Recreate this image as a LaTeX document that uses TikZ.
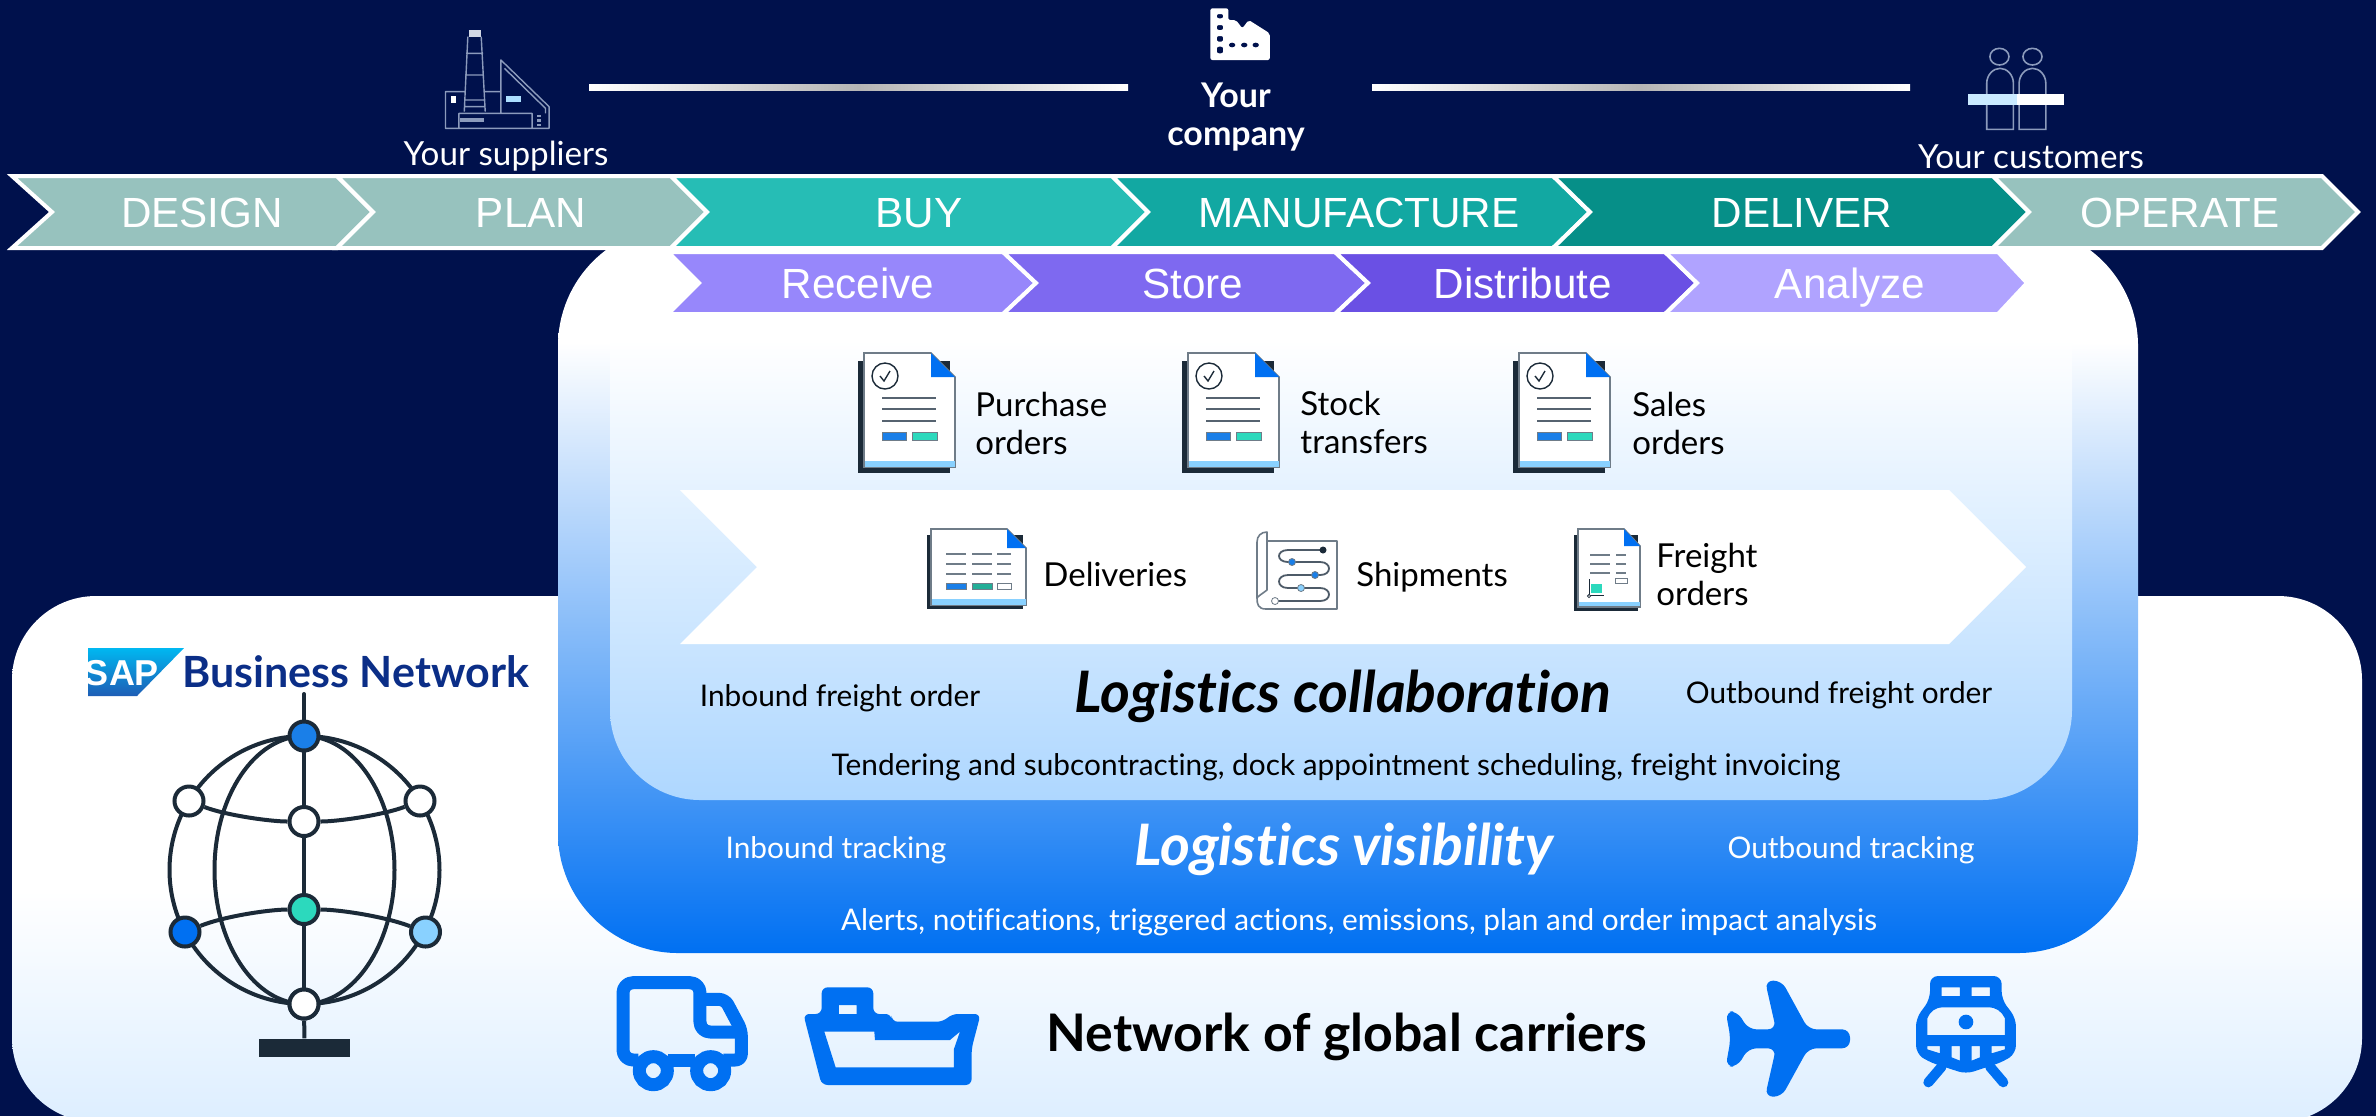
\documentclass[tikz,border=0pt]{standalone}
\usepackage{fontspec}
\setmainfont{Lato}[Ligatures=CommonOff]
\newfontfamily\arialf{Liberation Sans}
\usetikzlibrary{calc}
\definecolor{bgnavy}{HTML}{00114C}
\definecolor{sapblue}{HTML}{0070F2}
\definecolor{palesky}{HTML}{DDEEFF}
\definecolor{innerb}{HTML}{AED7FF}
\definecolor{sage}{HTML}{97C2BE}
\definecolor{tealA}{HTML}{26BDB5}
\definecolor{tealB}{HTML}{12A8A2}
\definecolor{tealC}{HTML}{068F88}
\definecolor{violA}{HTML}{9787FB}
\definecolor{violB}{HTML}{7E69F0}
\definecolor{violC}{HTML}{6A50E4}
\definecolor{violD}{HTML}{B0A3FF}
\definecolor{ink}{HTML}{1B2A38}
\definecolor{greyline}{HTML}{6F7C88}
\definecolor{iconblue}{HTML}{1A7FE8}
\definecolor{icongreen}{HTML}{2CD9BD}
\definecolor{iconsky}{HTML}{89D1FF}
\definecolor{linegrey}{HTML}{B5B5B5}
\definecolor{thinicon}{HTML}{8C9BBC}
\definecolor{sapcyan}{HTML}{00B8F1}
\definecolor{sapdeep}{HTML}{1E5DB5}
\definecolor{sapnavy}{HTML}{0B2E87}
\pgfdeclareverticalshading{shadeCenter}{100bp}{color(0bp)=(sapblue); color(25bp)=(sapblue); color(67bp)=(white); color(100bp)=(white)}
\pgfdeclareverticalshading{shadeInner}{100bp}{color(0bp)=(innerb); color(25bp)=(innerb); color(75bp)=(white); color(100bp)=(white)}
\pgfdeclareverticalshading{shadeBottom}{100bp}{color(0bp)=(palesky); color(25bp)=(palesky); color(47bp)=(white); color(100bp)=(white)}
\tikzset{
  chevA/.style={fill=#1,draw=white,line width=2pt,line join=miter},
  chevtext/.style={font=\arialf\fontsize{21.1}{25}\selectfont,text=white,inner sep=0pt,anchor=base},
  wlabel/.style={font=\fontsize{16.5}{19}\selectfont,text=black,inner sep=0pt,anchor=west,align=left},
  blabel/.style={font=\fontsize{16.5}{19}\selectfont,text=black,inner sep=0pt,anchor=base west},
  clabel/.style={font=\fontsize{14.9}{19}\selectfont,text=black,inner sep=0pt,anchor=base,align=center},
  toplabel/.style={font=\fontsize{16.6}{19}\selectfont,text=white,inner sep=0pt,anchor=base},
  titlelbl/.style={font=\fontsize{28.6}{32}\selectfont\bfseries\itshape,inner sep=0pt,anchor=base},
  globenode/.style={circle,draw=ink,line width=2pt,minimum size=14.5pt,inner sep=0pt,fill=#1},
  globeline/.style={draw=ink,line width=2pt},
}
\newcommand{\chevron}[7]{%
  \path[chevA=#7] (#1,#5) -- (#3,#5) -- (#4,{(#5+#6)/2}) -- (#3,#6) -- (#1,#6) -- (#2,{(#5+#6)/2}) -- cycle;}
\newcommand{\docchecked}[1]{%
\begin{scope}[shift={(#1,353)}]
  \fill[ink] (-6,8) rectangle (86,120);
  \path[fill=white,draw=greyline,line width=.8pt] (0,0) -- (67,0) -- (91,24) -- (91,114) -- (0,114) -- cycle;
  \fill[iconsky] (0.5,108) rectangle (90.5,114);
  \path[fill=sapblue] (67,0) -- (91,24) -- (67,24) -- cycle;
  \draw[ink,line width=.7pt] (21,23) ellipse [x radius=13,y radius=13];
  \draw[ink,line width=.7pt] (16,23) -- (20,28) -- (26,18);
  \foreach \yy in {45,56,68} \draw[greyline!70!ink,line width=1pt] (18,\yy) -- (72,\yy);
  \path[fill=iconblue,draw=greyline,line width=.4pt] (18,79) rectangle (42,87);
  \path[fill=icongreen,draw=greyline,line width=.4pt] (48,79) rectangle (73,87);
\end{scope}}
\begin{document}
\begin{tikzpicture}[x=0.5pt,y=-0.5pt]
\useasboundingbox (0,0) rectangle (2376,1116);
\fill[bgnavy] (0,0) rectangle (2376,1116);
\clip (0,0) rectangle (2376,1116);
% panels
\path[shading=shadeBottom,rounded corners=42pt] (12,596) rectangle (2362,1122);
\path[shading=shadeCenter,rounded corners=60pt] (558,226) rectangle (2138,953);
\path[shading=shadeInner] (610,340) -- (2072,340) [rounded corners=45pt] -- (2072,800) -- (610,800) [sharp corners] -- cycle;
% white arrow band
\fill[white] (680,490) -- (1949,490) -- (2026,567) -- (1949,644) -- (680,644) -- (757,567) -- cycle;
% top lines
\path[left color=white,right color=white,middle color=linegrey] (589,84) rectangle (1128,90);
\path[left color=white,right color=white,middle color=linegrey] (1372,84) rectangle (1910,90);
% chevrons row 1
\chevron{12}{52}{337}{373}{176}{248}{sage}
\chevron{337}{373}{671}{707}{176}{248}{sage}
\chevron{671}{707}{1112}{1148}{176}{248}{tealA}
\chevron{1112}{1148}{1553}{1590}{176}{248}{tealB}
\chevron{1553}{1590}{1993}{2029}{176}{248}{tealC}
\chevron{1993}{2029}{2322}{2358}{176}{248}{sage}
\node[chevtext] (design) at (202,227) {DESIGN};
\node[chevtext] (plan) at (531,227) {PLAN};
\node[chevtext] (buy) at (919,227) {BUY};
\node[chevtext] (manu) at (1359,227) {MANUFACTURE};
\node[chevtext] (deliver) at (1802,227) {DELIVER};
\node[chevtext] (operate) at (2180,227) {OPERATE};
% chevrons row 2
\chevron{668}{699}{1003}{1036}{252}{314}{violA}
\chevron{1003}{1036}{1335}{1368}{252}{314}{violB}
\chevron{1335}{1368}{1665}{1697}{252}{314}{violC}
\chevron{1665}{1697}{1998}{2027}{252}{314}{violD}
\node[chevtext] (receive) at (858,298) {Receive};
\node[chevtext] (store) at (1193,298) {Store};
\node[chevtext] (distrib) at (1523,298) {Distribute};
\node[chevtext] (analyze) at (1850,298) {Analyze};
% top labels
\node[toplabel] (suppl) at (506,165) {Your suppliers};
\node[toplabel,anchor=center,align=center,font=\fontsize{17}{19}\selectfont\bfseries] (comp) at (1236,117) {Your\\company};
\node[toplabel] (cust) at (2031,168) {Your customers};
% supplier icon
\begin{scope}[xscale=.4464,yscale=.3333]
  \draw[thinicon,line width=.7pt,line join=round]
    (1048,110) -- (1040,335) (1078,110) -- (1087,335)
    (1044,160) -- (1082,160) (1042,225) -- (1084,225) (1041,300) -- (1086,300) (1040,320) -- (1087,320)
    (1040,275) -- (998,275) -- (998,385) -- (1230,385) -- (1230,320) -- (1122,180) -- (1122,340)
    (1087,275) -- (1122,275) (1130,205) -- (1222,325) -- (1222,340)
    (1028,385) -- (1028,340) -- (1192,340) -- (1192,385);
  \fill[thinicon!40!white] (1050,90) rectangle (1078,110);
  \fill[thinicon] (1030,355) rectangle (1085,367);
  \fill[white] (1010,288) rectangle (1022,308);
  \fill[iconsky!70!white] (1133,288) rectangle (1167,307);
  \foreach \yy in {345,358,371} \fill[thinicon] (1204,\yy) rectangle (1212,\yy+7);
\end{scope}
% company icon
\begin{scope}[shift={(380,0)},xscale=.6378,yscale=.3333]
  \fill[white,even odd rule,rounded corners=1pt]
    (1302,25) -- (1330,25) -- (1330,60) -- (1342,60) -- (1352,85) -- (1362,60) -- (1395,100) -- (1395,180) -- (1302,180) -- cycle
    (1312,42) rectangle (1322,55) (1312,75) rectangle (1322,90) (1312,108) rectangle (1322,125) (1312,140) rectangle (1322,160);
  \fill[bgnavy] (1336,135) ellipse [x radius=5,y radius=7] (1355,135) ellipse [x radius=5,y radius=7] (1373,135) ellipse [x radius=5,y radius=7];
\end{scope}
% customers icon
\begin{scope}[shift={(1380,0)},xscale=.6353,yscale=.3333]
  \draw[thinicon,line width=.8pt] (975,170) ellipse [x radius=15,y radius=25] (1027,170) ellipse [x radius=15,y radius=25];
  \draw[thinicon,line width=.8pt] (955,388) -- (955,250) .. controls (955,225) and (965,205) .. (976,205) .. controls (987,205) and (997,225) .. (997,250) -- (997,388) -- cycle;
  \draw[thinicon,line width=.8pt] (1006,388) -- (1006,250) .. controls (1006,225) and (1016,205) .. (1027,205) .. controls (1038,205) and (1048,225) .. (1048,250) -- (1048,388) -- cycle;
  \fill[iconsky!45!white] (926,282) rectangle (1002,316);
  \fill[white] (1002,282) rectangle (1077,316);
\end{scope}
% documents
\docchecked{864}
\docchecked{1188}
\docchecked{1519}
\node[wlabel] (po) at (975,423) {Purchase\\orders};
\node[wlabel] (st) at (1300,422) {Stock\\transfers};
\node[wlabel] (so) at (1632,423) {Sales\\orders};
% deliveries icon
\begin{scope}[shift={(931,529)}]
  \fill[ink] (-4,6) rectangle (92,80);
  \path[fill=white,draw=greyline,line width=.8pt] (0,0) -- (76,0) -- (95,19) -- (95,76) -- (0,76) -- cycle;
  \fill[iconsky] (0.5,70) rectangle (94.5,76);
  \fill[sapblue] (76,0) -- (95,19) -- (76,19) -- cycle;
  \foreach \yy in {25,35,45} {
    \draw[greyline,line width=1pt] (15,\yy) -- (35,\yy) (41,\yy) -- (61,\yy) (66,\yy) -- (80,\yy);}
  \path[fill=iconblue,draw=greyline,line width=.4pt] (15,54) rectangle (35,60);
  \path[fill=icongreen!80!black,draw=greyline,line width=.4pt] (41,54) rectangle (61,60);
  \path[fill=white,draw=greyline,line width=.4pt] (66,54) rectangle (80,60);
\end{scope}
\node[blabel] (deliv) at (1043,586) {Deliveries};
% shipments icon
\draw[greyline,line width=.8pt,line join=round] (1267,541) -- (1337,541) -- (1337,609) -- (1266,609) .. controls (1258,609) and (1257,604) .. (1257,598) -- (1257,542) .. controls (1257,536) and (1261,532) .. (1267,532) -- (1267,590) .. controls (1262,594) and (1258,596) .. (1257,598);
\draw[greyline!60!ink,line width=.9pt] (1323,550) -- (1288,550) .. controls (1276,550) and (1276,562) .. (1288,562) -- (1320,562) .. controls (1332,562) and (1332,575) .. (1320,575) -- (1288,575) .. controls (1276,575) and (1276,588) .. (1288,588) -- (1320,588) .. controls (1332,588) and (1332,601) .. (1320,601) -- (1275,601);
\path[fill=ink] (1323,550) circle (3.5);
\path[fill=iconblue,draw=greyline] (1292,562) circle (3.5);
\path[fill=iconblue,draw=greyline] (1315,575) circle (3.5);
\path[fill=iconsky,draw=greyline] (1301,588) circle (3.5);
\path[fill=white,draw=greyline] (1275,601) circle (3.5);
\node[blabel] (ship) at (1356,586) {Shipments};
% freight icon
\begin{scope}[shift={(1578,529)}]
  \fill[ink] (-4,6) rectangle (60,82);
  \path[fill=white,draw=greyline,line width=.8pt] (0,0) -- (46,0) -- (62,17) -- (62,78) -- (0,78) -- cycle;
  \fill[iconsky] (0.5,73) rectangle (61.5,77);
  \fill[sapblue] (46,0) -- (62,17) -- (46,17) -- cycle;
  \foreach \yy in {26,35,44} {\draw[greyline,line width=1pt] (12,\yy) -- (32,\yy) (38,\yy) -- (48,\yy);}
  \path[fill=white,draw=greyline,line width=.4pt] (37,49) rectangle (49,54);
  \fill[icongreen] (13,55) rectangle (24,64);
  \draw[ink,line width=.5pt] (11,50) -- (11,66) -- (26,66);
  \path[fill=white,draw=ink,line width=.4pt] (11,67) circle (1.6);
\end{scope}
\node[wlabel] (freight) at (1656,574) {Freight\\orders};
% middle labels
\node[clabel] (ifo) at (840,706) {Inbound freight order};
\node[titlelbl,text=black] (lc) at (1343,712) {Logistics collaboration};
\node[clabel] (ofo) at (1839,703) {Outbound freight order};
\node[clabel] (tend) at (1336,775) {Tendering and subcontracting, dock appointment scheduling, freight invoicing};
\node[clabel,text=white] (itr) at (836,858) {Inbound tracking};
\node[titlelbl,text=white] (lv) at (1344,865) {Logistics visibility};
\node[clabel,text=white] (otr) at (1851,858) {Outbound tracking};
\node[clabel,text=white] (alerts) at (1359,930) {Alerts, notifications, triggered actions, emissions, plan and order impact analysis};
\node[clabel,font=\fontsize{25.9}{28}\selectfont\bfseries] (net) at (1347,1051) {Network of global carriers};
% SAP logo
\path[top color=sapcyan,bottom color=sapdeep] (88,648) -- (184,648) -- (137,696) -- (88,696) -- cycle;
\node[inner sep=0pt,text=white,font=\arialf\fontsize{18}{20}\selectfont\bfseries] (sap) at (122,673) {SAP};
\node[inner sep=0pt,anchor=west,text=sapnavy,font=\fontsize{21.5}{24}\selectfont\bfseries] (bn) at (182,672) {Business Network};
% globe
\draw[globeline] (304.5,870) ellipse [x radius=135,y radius=134];
\draw[globeline] (304.5,870) ellipse [x radius=90,y radius=134];
\coordinate (gtop) at (304,694);
\node[globenode=white] (g6) at (304,1004) {};
\node[rectangle,fill=ink,inner sep=0pt,minimum width=45.5pt,minimum height=9.2pt] (gbase) at (304.5,1048) {};
\draw[globeline,line cap=round] (gtop) -- (g6);
\draw[globeline] (g6) -- (gbase);
\node[globenode=iconblue] (g1) at (304,736) {};
\node[globenode=white] (g2) at (304,821.5) {};
\node[globenode=icongreen] (g3) at (304,909.5) {};
\node[globenode=white] (g4) at (189,801) {};
\node[globenode=white] (g5) at (420,801) {};
\node[globenode=sapblue] (g7) at (185,932) {};
\node[globenode=iconsky] (g8) at (425.5,932) {};
\node[globenode=white] (g6b) at (304,1004) {};
\draw[globeline] (g4) .. controls (225,815) and (270,821.5) .. (g2);
\draw[globeline] (g5) .. controls (383,815) and (338,821.5) .. (g2);
\draw[globeline] (g7) .. controls (225,916) and (270,909.5) .. (g3);
\draw[globeline] (g8) .. controls (383,916) and (338,909.5) .. (g3);
% truck
\begin{scope}[shift={(590,950)},scale=.3333]
  \draw[sapblue,line width=6.5pt,line join=round,line cap=butt,rounded corners=5pt]
    (145,330) -- (99,330) -- (99,98) -- (330,98) -- (330,246) -- (454,246);
  \draw[sapblue,line width=6.5pt,line join=round,rounded corners=3pt]
    (330,148) -- (405,148) -- (454,240) -- (454,330) -- (400,330);
  \draw[sapblue,line width=6.5pt] (235,330) -- (315,330);
  \draw[sapblue,line width=6.5pt] (190,362) circle (42) (362,362) circle (42);
\end{scope}
% ship
\begin{scope}[shift={(590,950)},scale=.3333]
  \fill[sapblue,even odd rule,rounded corners=3pt]
    (640,192) -- (695,192) -- (695,112) -- (850,112) -- (850,192) -- (905,192) -- (905,215) -- (1060,215) -- (1085,192) -- (1172,192) -- (1145,295) -- (1145,405) -- (695,405) -- cycle
    [sharp corners] (703,245) -- (853,245) -- (855,270) -- (1080,270) -- (1110,245) -- (1092,297) -- (1092,352) -- (737,352) -- cycle
    (747,165) rectangle (800,192);
\end{scope}
% plane
\begin{scope}[shift={(1680,950)},scale=.3333]
  \fill[sapblue,rounded corners=4pt]
    (510,238) -- (510,295) -- (385,295) -- (305,440) -- (255,440) -- (288,295) -- (205,295) -- (172,350) -- (137,350) -- (152,267) -- (137,184) -- (172,184) -- (205,238) -- (288,238) -- (255,92) -- (305,92) -- (385,238) -- cycle;
\end{scope}
% train
\begin{scope}[shift={(1680,950)},scale=.3333]
  \draw[sapblue,line width=5pt,line cap=round] (785,350) -- (745,397) (930,350) -- (970,397);
  \fill[sapblue,even odd rule,rounded corners=4pt]
    (750,78) -- (965,78) -- (965,148) -- (1008,205) -- (1008,310) -- (970,335) -- (858,372) -- (745,335) -- (708,310) -- (708,205) -- (750,148) -- cycle
    [sharp corners] (785,112) rectangle (840,138) (875,112) rectangle (930,138)
    (742,255) -- (742,205) .. controls (750,185) and (765,172) .. (790,172) -- (925,172) .. controls (950,172) and (965,185) .. (975,205) -- (975,255) -- cycle
    (742,288) -- (780,288) -- (780,310) -- (742,298) -- cycle
    (815,288) -- (840,288) -- (840,332) -- (815,322) -- cycle
    (875,288) -- (900,288) -- (900,322) -- (875,332) -- cycle
    (935,288) -- (975,288) -- (975,298) -- (935,310) -- cycle;
  \fill[sapblue] (858,216) circle (22);
\end{scope}
\end{tikzpicture}
\end{document}
